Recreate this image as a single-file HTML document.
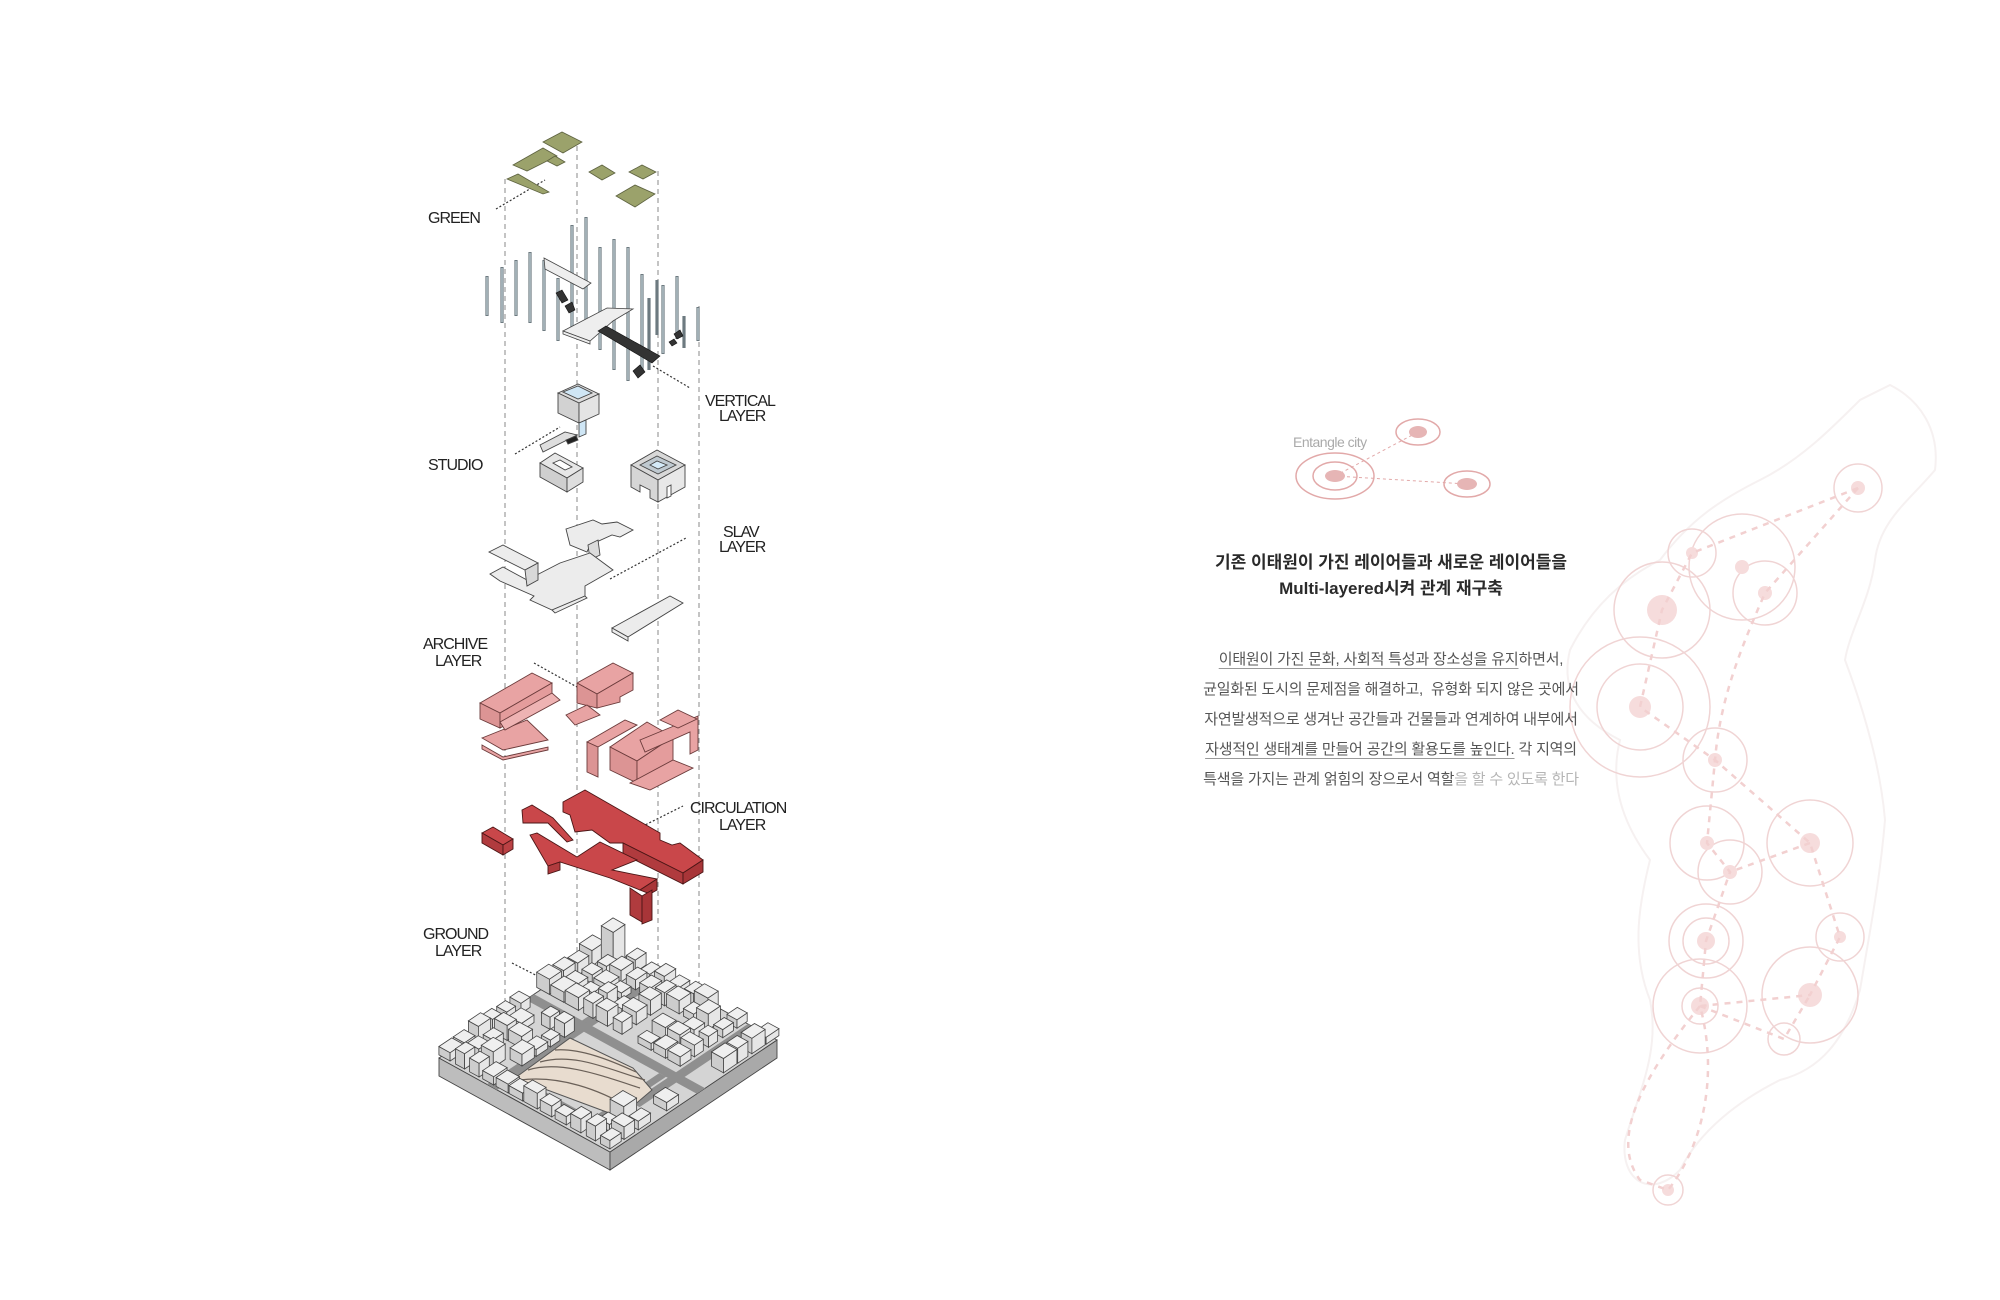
<!DOCTYPE html>
<html><head><meta charset="utf-8"><style>
html,body{margin:0;padding:0;background:#fff;}
#c{position:relative;width:2000px;height:1300px;overflow:hidden;background:#fff;}
svg{position:absolute;left:0;top:0;}
.lbl{font-family:"Liberation Sans",sans-serif;font-size:16px;fill:#222;letter-spacing:-1px;}
.t{position:absolute;font-family:"Liberation Sans","Noto Sans CJK KR",sans-serif;text-align:center;white-space:nowrap;}
.h{left:1141px;width:500px;font-size:17px;font-weight:bold;color:#2a2a2a;line-height:26px;top:550px;}
.p{left:1141px;width:500px;font-size:15px;color:#555;line-height:30px;top:645px;letter-spacing:-0.2px;}
.u{text-decoration:underline;text-decoration-color:#999;text-underline-offset:4px;}
.lt{color:#b5b5b5;}
</style></head><body><div id="c">
<svg width="2000" height="1300" viewBox="0 0 2000 1300" xmlns="http://www.w3.org/2000/svg">
<g fill="none" stroke="#f6f1f1" stroke-width="2">
<path d="M1890,385 C1920,400 1940,430 1935,470 C1910,500 1880,520 1875,560 C1870,600 1850,630 1845,660 C1860,700 1880,760 1885,820 C1880,880 1870,930 1860,990 C1845,1040 1820,1070 1780,1080 C1740,1100 1700,1130 1680,1170 C1650,1200 1620,1180 1625,1140 C1640,1090 1660,1050 1650,1000 C1630,950 1640,900 1650,860 C1620,820 1610,780 1620,740 C1580,720 1560,690 1570,650 C1590,610 1620,580 1660,560 C1690,520 1720,500 1760,480 C1800,460 1830,430 1860,400 Z"/>
</g>
<g fill="none" stroke="#f0d4d4" stroke-width="1.5">
<circle cx="1858" cy="488" r="24"/><circle cx="1692" cy="553" r="24"/><circle cx="1742" cy="567" r="53"/><circle cx="1765" cy="593" r="32"/><circle cx="1662" cy="610" r="48"/><circle cx="1640" cy="707" r="70"/><circle cx="1640" cy="707" r="43"/><circle cx="1715" cy="760" r="32"/><circle cx="1707" cy="843" r="37"/><circle cx="1730" cy="872" r="32"/><circle cx="1810" cy="843" r="43"/><circle cx="1840" cy="937" r="24"/><circle cx="1706" cy="941" r="37"/><circle cx="1706" cy="941" r="23"/><circle cx="1700" cy="1006" r="47"/><circle cx="1700" cy="1006" r="18"/><circle cx="1810" cy="995" r="48"/><circle cx="1784" cy="1039" r="16"/><circle cx="1668" cy="1190" r="15"/>
</g>
<g fill="#f6dcdc">
<circle cx="1858" cy="488" r="7"/><circle cx="1692" cy="553" r="6"/><circle cx="1742" cy="567" r="7"/><circle cx="1765" cy="593" r="7"/><circle cx="1662" cy="610" r="15"/><circle cx="1640" cy="707" r="11"/><circle cx="1715" cy="760" r="7"/><circle cx="1707" cy="843" r="7"/><circle cx="1730" cy="872" r="7"/><circle cx="1810" cy="843" r="10"/><circle cx="1840" cy="937" r="6"/><circle cx="1706" cy="941" r="9"/><circle cx="1700" cy="1006" r="9"/><circle cx="1810" cy="995" r="12"/><circle cx="1668" cy="1190" r="6"/>
</g>
<g fill="none" stroke="#f2d0d0" stroke-width="2.5" stroke-dasharray="6 6">
<path d="M1858,488 L1692,553 L1662,610 L1640,707 L1715,760 L1810,843 L1840,937 L1810,995 L1700,1006"/>
<path d="M1858,488 L1765,593 C1740,650 1720,700 1715,760 L1707,843 L1730,872 L1706,941 L1700,1006"/>
<path d="M1810,843 L1730,872"/>
<path d="M1700,1006 L1784,1039 L1810,995"/>
<path d="M1700,1006 C1640,1080 1610,1140 1640,1180 L1668,1190 C1700,1150 1720,1080 1700,1006"/>
</g>
<text x="1293" y="447" font-family="Liberation Sans,sans-serif" font-size="14" fill="#aaa" letter-spacing="-0.5">Entangle city</text>
<g fill="none" stroke="#e2a9a9" stroke-width="1.5">
<ellipse cx="1335" cy="476" rx="39" ry="23"/><ellipse cx="1335" cy="476" rx="22" ry="14"/>
<ellipse cx="1418" cy="432" rx="22" ry="13"/><ellipse cx="1467" cy="484" rx="23" ry="13"/>
<path d="M1335,476 L1418,432 M1335,476 L1467,484" stroke-dasharray="3 3" stroke-width="1"/>
</g>
<g fill="#e6b5b5"><ellipse cx="1335" cy="476" rx="10" ry="6"/><ellipse cx="1418" cy="432" rx="9" ry="6"/><ellipse cx="1467" cy="484" rx="10" ry="6"/></g>

<g stroke="#888" stroke-width="1" stroke-dasharray="5 4">
<line x1="505" y1="179" x2="505" y2="1012"/><line x1="577" y1="146" x2="577" y2="1000"/><line x1="658" y1="171" x2="658" y2="1000"/><line x1="699" y1="306" x2="699" y2="1020"/>
</g>
<g stroke="#333" stroke-width="1.2" stroke-dasharray="2 2" fill="none">
<line x1="496" y1="209" x2="545" y2="180"/><line x1="653" y1="366" x2="690" y2="388"/><line x1="515" y1="454" x2="560" y2="427"/><line x1="610" y1="579" x2="686" y2="538"/><line x1="534" y1="663" x2="577" y2="687"/><line x1="635" y1="830" x2="683" y2="806"/><line x1="512" y1="963" x2="555" y2="985"/>
</g>
<text class="lbl" x="428" y="223">GREEN</text>
<text class="lbl" x="705" y="406">VERTICAL</text><text class="lbl" x="719" y="421">LAYER</text>
<text class="lbl" x="428" y="470">STUDIO</text>
<text class="lbl" x="723" y="537">SLAV</text><text class="lbl" x="719" y="552">LAYER</text>
<text class="lbl" x="423" y="649">ARCHIVE</text><text class="lbl" x="435" y="666">LAYER</text>
<text class="lbl" x="690" y="813">CIRCULATION</text><text class="lbl" x="719" y="830">LAYER</text>
<text class="lbl" x="423" y="939">GROUND</text><text class="lbl" x="435" y="956">LAYER</text>

<g fill="#9ba26b" stroke="#5d6240" stroke-width="0.8">
<polygon points="543,142 562,132 582,142 563,153"/><polygon points="513,165 543,148 557,156 527,171"/><polygon points="547,161 555,156 565,162 557,166"/><polygon points="507,179 518,174 549,192 543,194"/><polygon points="589,172 602,165 615,173 602,180"/><polygon points="629,172 642,165 656,172 643,179"/><polygon points="616,196 635,185 655,194 635,207"/>
</g>
<g stroke="#6d7a80" stroke-width="3.2" stroke-linecap="butt">
<line x1="487" y1="276" x2="487" y2="316"/><line x1="502" y1="267" x2="502" y2="323"/><line x1="516" y1="260" x2="516" y2="316"/><line x1="530" y1="252" x2="530" y2="323"/><line x1="544" y1="260" x2="544" y2="331"/><line x1="558" y1="278" x2="558" y2="341"/><line x1="572" y1="225" x2="572" y2="327"/><line x1="586" y1="217" x2="586" y2="331"/><line x1="600" y1="247" x2="600" y2="350"/><line x1="614" y1="239" x2="614" y2="370"/><line x1="628" y1="247" x2="628" y2="381"/><line x1="642" y1="274" x2="642" y2="373"/><line x1="649" y1="298" x2="649" y2="370"/><line x1="657" y1="280" x2="657" y2="335"/><line x1="663" y1="285" x2="663" y2="354"/><line x1="677" y1="276" x2="677" y2="339"/><line x1="684" y1="316" x2="684" y2="348"/><line x1="698" y1="307" x2="698" y2="341"/>
</g>
<g stroke="#b9c8ce" stroke-width="1.4">
<line x1="487" y1="277" x2="487" y2="315"/><line x1="502" y1="268" x2="502" y2="322"/><line x1="516" y1="261" x2="516" y2="315"/><line x1="530" y1="253" x2="530" y2="322"/><line x1="544" y1="261" x2="544" y2="330"/><line x1="558" y1="279" x2="558" y2="340"/><line x1="572" y1="226" x2="572" y2="326"/><line x1="586" y1="218" x2="586" y2="330"/><line x1="600" y1="248" x2="600" y2="349"/><line x1="614" y1="240" x2="614" y2="369"/><line x1="628" y1="248" x2="628" y2="380"/><line x1="642" y1="275" x2="642" y2="372"/><line x1="663" y1="286" x2="663" y2="353"/><line x1="677" y1="277" x2="677" y2="338"/><line x1="698" y1="308" x2="698" y2="340"/>
</g>
<g fill="#eeeeee" stroke="#444" stroke-width="0.8">
<polygon points="544,258 591,283 583,289 545,269"/>
<polygon points="563,331 607,308 633,309 613,321 590,341"/>
<polygon points="563,331 590,341 590,344 563,334"/>
</g>
<g fill="#333" stroke="#111" stroke-width="0.6">
<polygon points="598,331 606,326 660,356 652,363"/><polygon points="556,293 562,290 568,300 562,303"/><polygon points="565,306 572,302 575,310 569,313"/><polygon points="633,371 640,365 645,372 638,378"/><polygon points="669,342 674,339 677,343 672,346"/><polygon points="674,334 680,330 683,336 677,339"/>
</g>
<g stroke="#444" stroke-width="0.9">
<polygon points="558,393 578,384 599,394 579,403" fill="#dcdcdc"/>
<polygon points="563,392 578,386 592,393 578,399" fill="#cfe6f5"/>
<polygon points="558,393 579,403 579,423 558,413" fill="#d2d2d2"/>
<polygon points="579,403 599,394 599,414 579,423" fill="#e4e4e4"/>
<polygon points="579,423 586,420 586,434 579,437" fill="#cfe6f5"/>
<polygon points="540,445 565,432 577,435 543,452" fill="#dedede"/>
<polygon points="566,440 576,436 578,440 568,444" fill="#222"/>
<polygon points="540,463 555,453 583,468 567,478" fill="#e6e6e6"/>
<polygon points="540,463 567,478 567,492 540,477" fill="#cfcfcf"/>
<polygon points="567,478 583,468 583,482 567,492" fill="#dedede"/>
<polygon points="553,463 560,460 572,467 565,470" fill="#fff"/>
<polygon points="631,465 657,450 685,465 658,480" fill="#d8d8d8"/>
<polygon points="640,465 657,456 676,465 658,474" fill="#bfc9d0"/>
<polygon points="650,465 657,461 667,465 658,469" fill="#d4eaf8"/>
<polygon points="631,465 658,480 658,502 650,498 650,490 640,485 640,492 631,487" fill="#d6d6d6"/>
<polygon points="658,480 685,465 685,487 658,502" fill="#e8e8e8"/>
<polygon points="667,487 671,485 671,496 667,498" fill="#fff"/>
</g>
<g fill="#ececec" stroke="#444" stroke-width="0.9">
<polygon points="566,529 593,520 602,524 617,522 633,530 620,537 612,535 590,545 587,552 570,545"/>
<polygon points="588,545 598,540 600,555 590,560" fill="#dcdcdc"/>
<polygon points="490,574 503,567 527,580 560,563 590,553 613,570 585,586 585,596 552,610 530,600 534,596 500,581"/>
<polygon points="552,610 585,596 587,598 555,613"/>
<polygon points="489,552 503,545 538,563 525,570"/>
<polygon points="525,570 538,563 538,580 527,586" fill="#d8d8d8"/>
<polygon points="612,628 670,596 683,603 628,637"/>
<polygon points="612,628 628,637 628,641 612,632"/>
</g>
<g fill="#e8a3a3" stroke="#6b3b3b" stroke-width="0.9">
<polygon points="482,738 527,720 548,740 503,750"/>
<polygon points="482,745 503,757 548,747 548,750 503,760 482,749"/>
<polygon points="480,703 532,673 552,683 500,713"/>
<polygon points="480,703 500,713 500,728 480,719" fill="#dc9494"/>
<polygon points="500,713 552,683 552,700 500,728" fill="#e49c9c"/>
<polygon points="500,722 552,693 560,700 505,730" fill="#eeb3b3"/>
<polygon points="577,683 613,663 633,673 597,694"/>
<polygon points="577,683 597,694 597,708 577,703" fill="#dc9494"/>
<polygon points="597,694 633,673 633,690 620,697 620,702 597,708" fill="#e49c9c"/>
<polygon points="566,715 587,705 600,715 575,725"/>
<polygon points="587,742 625,720 637,725 598,747"/>
<polygon points="587,742 598,747 598,777 587,772" fill="#dc9494"/>
<polygon points="610,747 647,722 673,737 637,761"/>
<polygon points="610,747 637,761 637,783 610,770" fill="#dc9494"/>
<polygon points="637,761 673,737 673,760 637,783" fill="#e49c9c"/>
<polygon points="640,740 698,716 698,750 690,754 690,732 645,752"/>
<polygon points="660,720 678,710 697,719 678,728"/>
<polygon points="630,783 673,760 693,768 650,790"/>
</g>
<g fill="#c9474a" stroke="#4a1515" stroke-width="0.9">
<polygon points="482,833 493,827 513,839 503,845"/>
<polygon points="482,833 503,845 503,855 482,843" fill="#b03b3e"/>
<polygon points="503,845 513,839 513,849 503,855" fill="#bb4144"/>
<polygon points="522,810 532,805 553,818 573,840 567,842 548,823 523,823"/>
<polygon points="563,802 585,790 660,833 660,840 672,845 680,843 703,860 683,873 623,843 610,843 592,830 575,832 570,815 563,812"/>
<polygon points="623,843 683,873 683,884 623,854" fill="#b03b3e"/>
<polygon points="683,873 703,860 703,872 683,884" fill="#a83538"/>
<polygon points="530,835 537,833 557,845 577,857 600,842 637,860 612,870 657,879 640,890 610,878 560,862 548,866"/>
<polygon points="548,866 560,862 560,870 548,874" fill="#b03b3e"/>
<polygon points="640,890 657,879 657,890 650,894" fill="#a83538"/>
<polygon points="630,888 642,896 642,922 630,915" fill="#b03b3e"/>
<polygon points="642,896 652,890 652,920 642,924" fill="#a83538"/>
</g>
<g stroke="#444" stroke-width="0.9">
<polygon points="439,1058 610,1152 610,1170 439,1076" fill="#bdbdbd"/>
<polygon points="610,1152 777,1040 777,1058 610,1170" fill="#a9a9a9"/>
<polygon points="439,1058 606,946 777,1040 610,1152" fill="#d4d4d4"/>
</g>
<g id="roads" fill="#8f8f8f" stroke="none"></g>
<polygon points="515,1078 570,1038 633,1068 652,1090 620,1117" fill="#e8dccf" stroke="#555" stroke-width="1"/>
<g fill="none" stroke="#6a6058" stroke-width="1.2">
<path d="M528,1070 C560,1060 600,1075 640,1088"/><path d="M540,1062 C575,1052 610,1070 645,1080"/><path d="M520,1080 C560,1075 600,1090 630,1108"/><path d="M555,1050 C580,1048 610,1060 636,1072"/>
</g>
<g id="bld"></g>
</svg>
<div class="t h">기존 이태원이 가진 레이어들과 새로운 레이어들을<br>Multi-layered시켜 관계 재구축</div>
<div class="t p"><span class="u">이태원이 가진 문화, 사회적 특성과 장소성을 유지</span>하면서,<br>균일화된 도시의 문제점을 해결하고,&nbsp; 유형화 되지 않은 곳에서<br>자연발생적으로 생겨난 공간들과 건물들과 연계하여 내부에서<br><span class="u">자생적인 생태계를 만들어 공간의 활용도를 높인다.</span> 각 지역의<br>특색을 가지는 관계 얽힘의 장으로서 역할<span class="lt">을 할 수 있도록 한다</span></div>
</div>
<script>
(function(){
var NS="http://www.w3.org/2000/svg";
var F=[610,1152],U=[167,-112],V=[-171,-94];
function P(s,t){return [F[0]+s*U[0]+t*V[0],F[1]+s*U[1]+t*V[1]];}
function poly(g,pts,fill,stroke){var e=document.createElementNS(NS,"polygon");e.setAttribute("points",pts.map(function(p){return p[0].toFixed(1)+","+p[1].toFixed(1)}).join(" "));e.setAttribute("fill",fill);if(stroke){e.setAttribute("stroke",stroke);e.setAttribute("stroke-width","0.8");}g.appendChild(e);}
var roads=document.getElementById("roads");
function band(s0,s1,t0,t1){poly(roads,[P(s0,t0),P(s1,t0),P(s1,t1),P(s0,t1)],"#8f8f8f");}
band(0,1,0.66,0.72);band(0.52,0.57,0,1);band(0.3,1,0.12,0.17);band(0.05,0.52,0.18,0.22);band(0.08,0.12,0.2,0.66);
var g=document.getElementById("bld");
var seed=7;function r(){seed=(seed*9301+49297)%233280;return seed/233280;}
var list=[];
var st=0.085;
for(var s=0.01;s<0.98;s+=st){for(var t=0.01;t<0.98;t+=st){
 var cs=s+st/2,ct=t+st/2;
 if(cs>0.1&&cs<0.52&&ct>0.2&&ct<0.66)continue;
 if(ct>0.65&&ct<0.73)continue;
 if(cs>0.51&&cs<0.58)continue;
 if(cs>0.3&&ct>0.11&&ct<0.18)continue;
 if(r()<0.12)continue;
 var ds=st*(0.6+0.35*r()),dt=st*(0.6+0.35*r());
 list.push([s+0.005,t+0.005,ds,dt,6+r()*10]);
}}
list.push([0.9,0.86,0.07,0.07,38]);
list.sort(function(a,b){return (b[0]+b[1])-(a[0]+a[1]);});
list.forEach(function(b){
 var s=b[0],t=b[1],ds=b[2],dt=b[3],h=b[4];
 var f=P(s,t),R=P(s+ds,t),L=P(s,t+dt),B=P(s+ds,t+dt);
 function up(p){return [p[0],p[1]-h];}
 poly(g,[L,f,up(f),up(L)],"#cdcdcd","#444");
 poly(g,[f,R,up(R),up(f)],"#e6e6e6","#444");
 poly(g,[up(L),up(f),up(R),up(B)],"#efefef","#444");
});
})();
</script>
</body></html>
